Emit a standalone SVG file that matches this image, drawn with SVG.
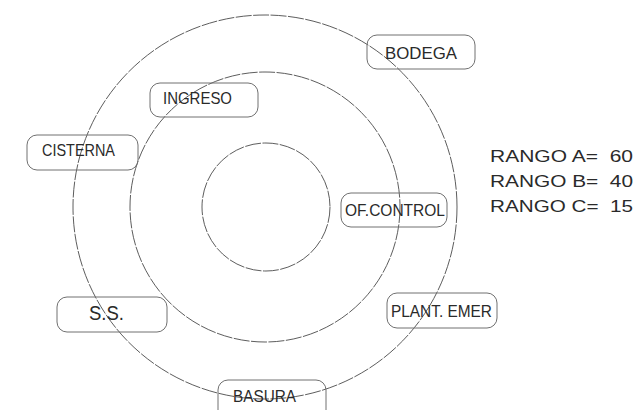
<svg xmlns="http://www.w3.org/2000/svg" width="640" height="410" viewBox="0 0 640 410">
<defs>
<style>
.ring{fill:none;stroke:#404040;stroke-width:0.85;stroke-dasharray:16 1.5}
.box{fill:none;stroke:#707070;stroke-width:1}
.lbl{font-family:"Liberation Sans",Arial,sans-serif;font-size:17px;fill:#2a2a2a;text-anchor:middle}
.rng{font-family:"Liberation Sans",Arial,sans-serif;font-size:17px;fill:#2a2a2a}
</style>
</defs>
<rect width="640" height="410" fill="#ffffff"/>
<g id="rings">
<circle class="ring" cx="265" cy="207" r="192"/>
<circle class="ring" cx="265" cy="207" r="135"/>
<circle class="ring" cx="266" cy="207" r="64"/>
</g>
<g id="bodega">
<rect class="box" x="367" y="35" width="108" height="34" rx="10"/>
<text class="lbl" x="421" y="59" textLength="72" lengthAdjust="spacingAndGlyphs">BODEGA</text>
</g>
<g id="ingreso">
<rect class="box" x="150" y="83" width="108" height="34" rx="10"/>
<text class="lbl" x="197.5" y="104" textLength="69" lengthAdjust="spacingAndGlyphs">INGRESO</text>
</g>
<g id="cisterna">
<rect class="box" x="27" y="135" width="111" height="35" rx="10"/>
<text class="lbl" x="78.5" y="156" textLength="73" lengthAdjust="spacingAndGlyphs">CISTERNA</text>
</g>
<g id="of-control">
<rect class="box" x="341" y="193" width="106" height="34" rx="10"/>
<text class="lbl" x="395" y="216" textLength="100" lengthAdjust="spacingAndGlyphs">OF.CONTROL</text>
</g>
<g id="plant-emer">
<rect class="box" x="387" y="293" width="110" height="35" rx="10"/>
<text class="lbl" x="441.5" y="317" textLength="101" lengthAdjust="spacingAndGlyphs">PLANT. EMER</text>
</g>
<g id="ss">
<rect class="box" x="57" y="297" width="110" height="35" rx="10"/>
<text class="lbl" x="106.5" y="320" style="font-size:20px" textLength="35" lengthAdjust="spacingAndGlyphs">S.S.</text>
</g>
<g id="basura">
<rect class="box" x="218" y="380" width="108" height="40" rx="10"/>
<text class="lbl" x="264.5" y="402" textLength="63" lengthAdjust="spacingAndGlyphs">BASURA</text>
</g>
<g id="rangos">
<text class="rng" x="490" y="162" xml:space="preserve" textLength="143" lengthAdjust="spacingAndGlyphs">RANGO A=  60</text>
<text class="rng" x="490" y="187" xml:space="preserve" textLength="143" lengthAdjust="spacingAndGlyphs">RANGO B=  40</text>
<text class="rng" x="490" y="212" xml:space="preserve" textLength="143" lengthAdjust="spacingAndGlyphs">RANGO C=  15</text>
</g>
</svg>
